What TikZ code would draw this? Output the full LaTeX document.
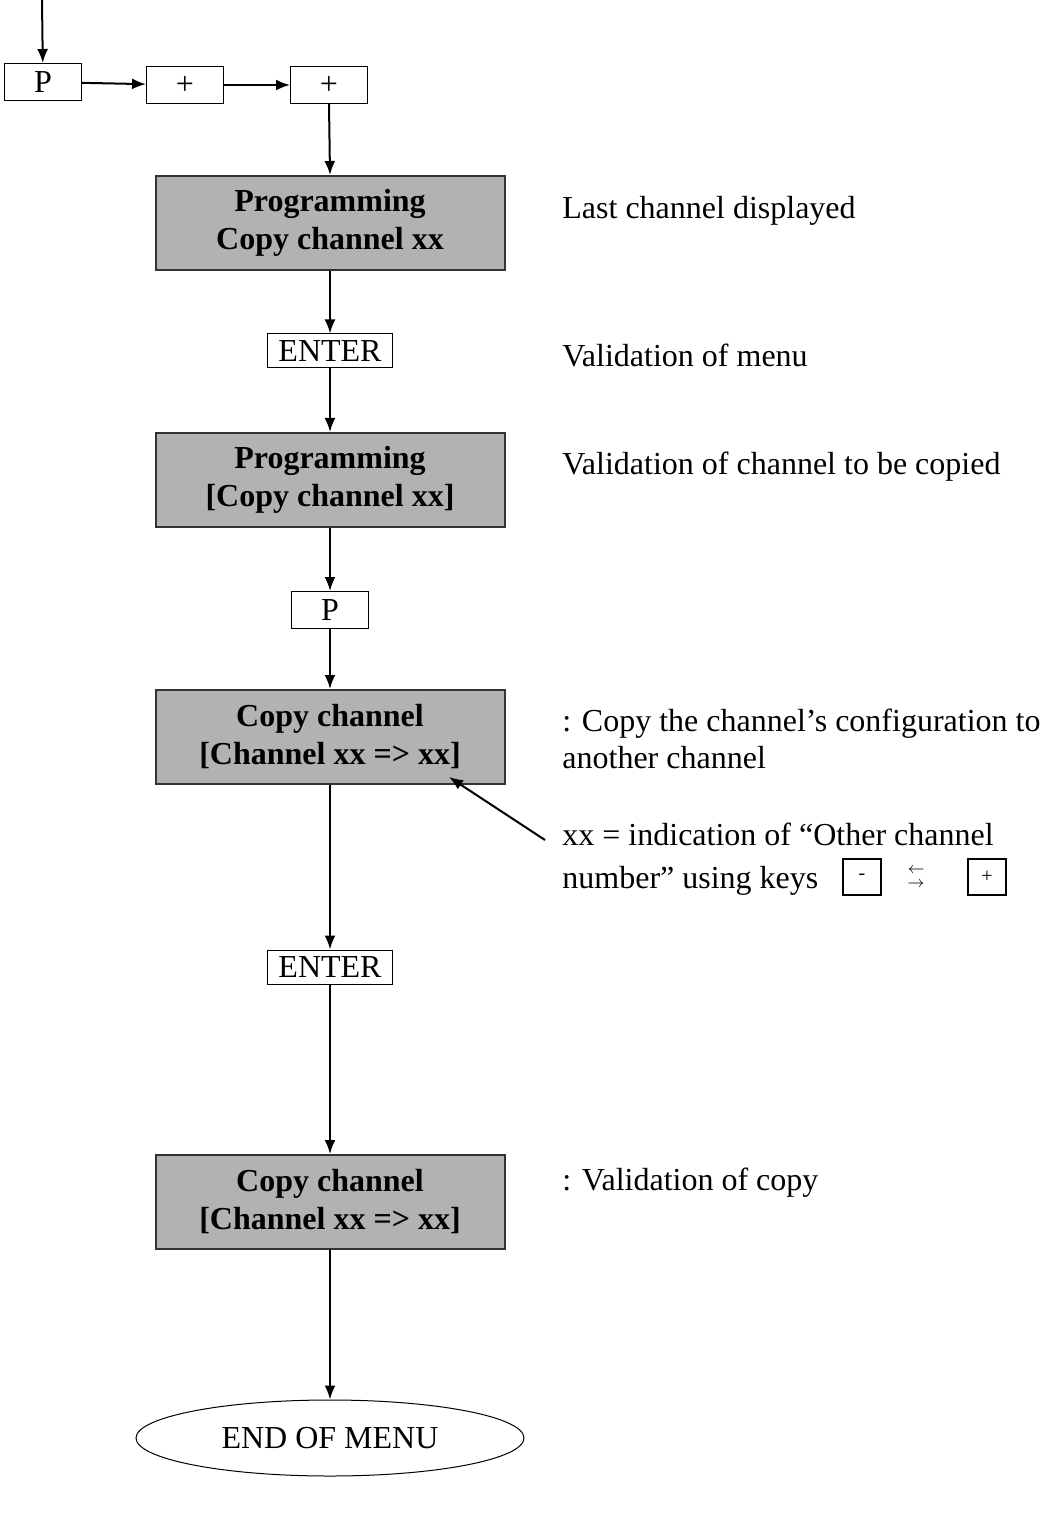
\documentclass[tikz,border=0pt]{standalone}
\usepackage{fontspec}
\setmainfont{Liberation Serif}
\usetikzlibrary{arrows.meta}
\usetikzlibrary{shapes.geometric}

\begin{document}
\begin{tikzpicture}[x=0.5pt,y=-0.5pt,
            flow/.style={line width=1pt,-{Latex[length=7pt,width=5.5pt]}},
            keybox/.style={draw,line width=0.5pt,minimum width=38.5pt,minimum height=18.5pt,inner sep=0pt,font=\fontsize{16}{18.5}\selectfont},
            enterbox/.style={keybox,minimum width=62.5pt,minimum height=17pt},
            greybox/.style={draw=black!80,line width=1pt,fill=black!30,minimum width=174.5pt,minimum height=47pt,inner sep=0pt,align=center,font=\fontsize{16}{19}\selectfont\bfseries},
            smallkey/.style={draw,line width=0.7pt,minimum width=19pt,minimum height=18pt,inner sep=0pt,font=\fontsize{10}{10}\selectfont},
            note/.style={anchor=west,inner sep=0pt,align=left,font=\fontsize{16}{18.5}\selectfont}]
            \useasboundingbox (0,0) rectangle (1040,1513);
            \coordinate (start) at (42,0);
            % keys at the top
            \node[keybox] (P1) at (43,82) {P};
            \node[keybox] (plus1) at (185,85) {+};
            \node[keybox] (plus2) at (329,85) {+};
            % main column
            \node[greybox] (prog1) at (330,223) {Programming\\Copy channel xx};
            \node[enterbox] (enter1) at (330,351) {ENTER};
            \node[greybox] (prog2) at (330,480) {Programming\\{[Copy channel xx]}};
            \node[keybox] (P2) at (330,610) {P};
            \node[greybox] (copy1) at (330,737) {Copy channel\\{[Channel xx => xx]}};
            \node[enterbox] (enter2) at (330,967) {ENTER};
            \node[greybox] (copy2) at (330,1202) {Copy channel\\{[Channel xx => xx]}};
            \node[draw,ellipse,line width=0.5pt,minimum width=194pt,minimum height=38pt,inner sep=0pt,font=\fontsize{16}{18.5}\selectfont] (endmenu) at (330,1438) {END OF MENU};
            % comments on the right
            \node[note] (n1) at (562,211) {Last channel displayed};
            \node[note] (n2) at (562,355) {Validation of menu};
            \node[note] (n3) at (562,467) {Validation of channel to be copied};
            \node[note] (n4) at (562,739) {: Copy the channel’s configuration to\\another channel};
            \node[note] (n5) at (562,834) {xx = indication of “Other channel};
            \node[note] (n6) at (562,881) {number” using keys};
            \node[smallkey] (kminus) at (862,877) {-};
            \node[inner sep=0pt,align=center,font=\fontsize{8}{7}\selectfont] (kswap) at (916,877) {$\leftarrow$\\$\rightarrow$};
            \node[smallkey] (kplus) at (987,877) {+};
            \node[note] (n7) at (562,1183) {: Validation of copy};
            \coordinate (xxtip) at (449,777);
            \coordinate (xxfoot) at (545,840);
            % connectors
            \draw[flow] (start) -- (P1);
            \draw[flow] (P1) -- (plus1);
            \draw[flow] (plus1) -- (plus2);
            \draw[flow] (plus2.south) -- (prog1.north);
            \draw[flow] (prog1) -- (enter1);
            \draw[flow] (enter1) -- (prog2);
            \draw[flow] (prog2) -- (P2);
            \draw[flow] (P2) -- (copy1);
            \draw[flow] (copy1) -- (enter2);
            \draw[flow] (enter2) -- (copy2);
            \draw[flow] (copy2) -- (endmenu);
            \draw[flow] (xxfoot) -- (xxtip);
        \end{tikzpicture}
\end{document}
